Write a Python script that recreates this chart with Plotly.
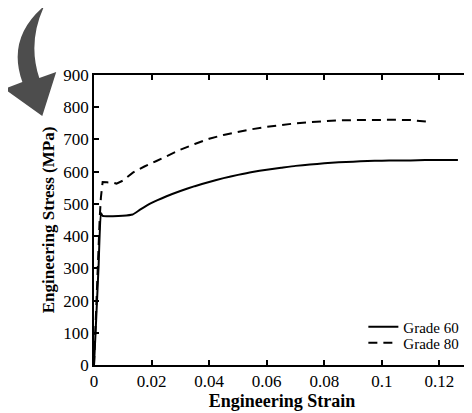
import plotly.graph_objects as go

# Grade 60 (solid)
strain_g60 = [0, 0.0008, 0.0016, 0.0024, 0.0030, 0.006, 0.010, 0.0134, 0.016, 0.020, 0.025,
              0.030, 0.035, 0.040, 0.045, 0.050, 0.055, 0.060, 0.065, 0.070, 0.075, 0.080, 0.085,
              0.090, 0.095, 0.100, 0.105, 0.110, 0.115, 0.120, 0.1264]
stress_g60 = [0, 150, 310, 472, 463, 462, 463, 467, 482, 503, 523,
              540, 555, 568, 580, 590, 599, 606, 612, 618, 622, 626, 629,
              631, 633, 634, 635, 635, 636, 636, 636]

# Grade 80 (dashed)
strain_g80 = [0, 0.0005, 0.0009, 0.0015, 0.002, 0.0024, 0.0027, 0.003, 0.0045, 0.0065, 0.0078,
              0.010, 0.0135, 0.0175, 0.0217, 0.0255, 0.0297, 0.035, 0.040, 0.045, 0.050, 0.055,
              0.060, 0.065, 0.070, 0.075, 0.080, 0.085, 0.090, 0.095, 0.100, 0.105, 0.110,
              0.114, 0.116]
stress_g80 = [0, 130, 225, 350, 460, 520, 555, 568, 567, 566, 563,
              572, 597, 616, 633, 650, 667, 686, 702, 714, 724, 732,
              739, 745, 750, 754, 757, 759, 760, 761, 761, 761, 760,
              758, 755]

x_ticks = [0, 0.02, 0.04, 0.06, 0.08, 0.1, 0.12]
x_labels = ["0", "0.02", "0.04", "0.06", "0.08", "0.1", "0.12"]
y_ticks = [0, 100, 200, 300, 400, 500, 600, 700, 800, 900]

FONT = "Liberation Serif, Times New Roman, serif"
OFF = 8  # page body margin offset
W, H = 472, 413
# plot area in page pixels: x 94..472, y 75..365
ML, MR, MT, MB = 94 - OFF, OFF, 75 - OFF, H - 365 + OFF

fig = go.Figure()
fig.add_trace(go.Scatter(x=strain_g60, y=stress_g60, mode="lines", name="Grade 60",
                         line=dict(color="black", width=2, shape="spline", smoothing=0.4),
                         legend="legend"))
fig.add_trace(go.Scatter(x=strain_g80, y=stress_g80, mode="lines", name="Grade 80",
                         line=dict(color="black", width=2, dash="9px,6px"), legend="legend2"))

pw = W - ML - MR
ph = H - MT - MB
def px(x, y):
    fx = x - OFF
    fy = y - OFF
    return f"{(fx - ML) / pw:.4f},{(H - MB - fy) / ph:.4f}"

def py_paper(y):
    return (H - MB - (y - OFF)) / ph

path = (f"M {px(44, 6)} Q {px(6, 38)} {px(22, 82)} L {px(4, 89)} L {px(42, 116)} "
        f"L {px(56, 72)} L {px(39, 78)} Q {px(27, 42)} {px(44, 6)} Z")
fig.add_shape(type="path", xref="paper", yref="paper", path=path,
              fillcolor="#4d4d4d", line=dict(width=0))

axis_common = dict(showline=True, linecolor="black", linewidth=1.5, mirror="ticks",
                   ticks="inside", ticklen=5, tickwidth=1.5, tickcolor="black",
                   showgrid=False, zeroline=False,
                   tickfont=dict(family=FONT, size=17, color="black"))

leg_common = dict(xanchor="right", yanchor="middle", bgcolor="rgba(0,0,0,0)",
                  font=dict(family=FONT, size=15, color="black"), itemwidth=30)

fig.update_layout(
    width=W, height=H,
    margin=dict(l=ML, r=MR, t=MT, b=MB),
    paper_bgcolor="white", plot_bgcolor="white",
    showlegend=True,
    legend=dict(x=0.985, y=py_paper(327), **leg_common),
    legend2=dict(x=0.985, y=py_paper(343), **leg_common),
    xaxis=dict(range=[0, 0.1306], tickvals=x_ticks, ticktext=x_labels,
               title=dict(text="<b>Engineering Strain</b>", standoff=4,
                          font=dict(family=FONT, size=18, color="black")),
               **axis_common),
    yaxis=dict(range=[0, 900], tickvals=y_ticks,
               title=dict(text="<b>Engineering Stress (MPa)</b>", standoff=4,
                          font=dict(family=FONT, size=17, color="black")),
               **axis_common),
)

fig.write_html("out.html")
